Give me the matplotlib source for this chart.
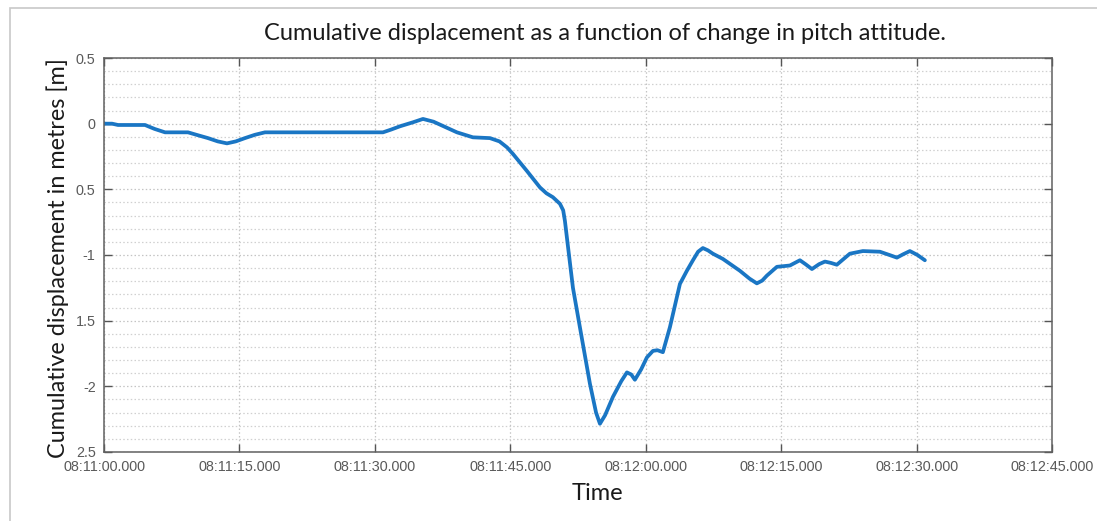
import matplotlib
matplotlib.use("Agg")
import matplotlib.pyplot as plt
import matplotlib.dates as mdates
from matplotlib.ticker import MultipleLocator, FixedLocator, FixedFormatter
from matplotlib.patches import Rectangle
from datetime import datetime, timedelta

# ---- data (seconds after 08:11:00, cumulative displacement in m) ----
t_seconds = [0.0, 0.89, 1.55, 4.54, 5.6, 6.76, 9.30, 10.5, 11.52, 12.6, 13.62,
             14.6, 15.61, 16.7, 17.83,
             30.90, 31.8, 32.78, 34.2, 35.33, 36.5, 39.09, 40.86, 42.75, 43.8,
             44.63, 45.29, 46.84, 48.28, 49.0, 49.72, 50.50, 50.86, 51.05,
             51.38, 51.94, 52.71, 53.82, 54.5, 54.93, 55.5, 56.37, 57.3, 57.92,
             58.4, 58.80, 59.5, 60.13, 60.80, 61.3, 61.90, 62.68, 63.79, 64.56,
             65.23, 65.8, 66.33, 66.9, 67.44, 68.55, 70.43, 71.5, 72.31, 72.9,
             73.42, 74.53, 75.97, 77.08, 77.7, 78.41, 79.2, 79.85, 80.5, 81.17,
             82.61, 84.05, 85.94, 87.0, 87.82, 88.5, 89.26, 90.1, 90.92]
displacement = [0.0, 0.0, -0.01, -0.01, -0.04, -0.066, -0.066, -0.09, -0.11,
                -0.135, -0.15, -0.135, -0.11, -0.085, -0.066,
                -0.066, -0.045, -0.02, 0.01, 0.036, 0.015, -0.066, -0.104,
                -0.11, -0.135, -0.18, -0.23, -0.36, -0.485, -0.53, -0.56,
                -0.61, -0.66, -0.74, -0.93, -1.25, -1.55, -1.98, -2.2, -2.285,
                -2.22, -2.08, -1.96, -1.894, -1.91, -1.95, -1.87, -1.78,
                -1.73, -1.725, -1.74, -1.55, -1.22, -1.12, -1.04, -0.975,
                -0.947, -0.965, -0.99, -1.03, -1.12, -1.18, -1.216, -1.195,
                -1.157, -1.09, -1.08, -1.04, -1.07, -1.107, -1.07, -1.05,
                -1.06, -1.074, -0.99, -0.97, -0.975, -1.0, -1.02, -0.995,
                -0.97, -1.0, -1.04]

start_time = datetime(2020, 1, 1, 8, 11, 0)
x_tick_seconds = [0, 15, 30, 45, 60, 75, 90, 105]
y_ticks = [0.5, 0, -0.5, -1, -1.5, -2, -2.5]
y_tick_labels = ["0.5", "0", "0.5", "-1", "1.5", "-2", "2.5"]

title = "Cumulative displacement as a function of change in pitch attitude."
xlabel = "Time"
ylabel = "Cumulative displacement in metres [m]"

times = [start_time + timedelta(seconds=s) for s in t_seconds]
x_ticks = [mdates.date2num(start_time + timedelta(seconds=s)) for s in x_tick_seconds]
x_tick_labels = [(start_time + timedelta(seconds=s)).strftime("%H:%M:%S") + ".000"
                 for s in x_tick_seconds]

W, H = 1097, 521
fig = plt.figure(figsize=(W / 100, H / 100), dpi=100)
fig.patch.set_facecolor("white")

# outer light border
fig.patches.append(Rectangle((10 / W, -0.1), 1.2, (H - 8) / H + 0.1,
                             transform=fig.transFigure, fill=False,
                             edgecolor="#c8c8c8", lw=1.2))

ax = fig.add_axes([104 / W, (H - 452) / H, (1052 - 104) / W, (452 - 58) / H])

ax.plot(times, displacement, color="#1a76c4", lw=2.7, solid_joinstyle="round",
        solid_capstyle="round")

ax.set_xlim(x_ticks[0], x_ticks[-1])
ax.set_ylim(-2.5, 0.5)
ax.xaxis.set_major_locator(FixedLocator(x_ticks))
ax.xaxis.set_major_formatter(FixedFormatter(x_tick_labels))
ax.yaxis.set_major_locator(FixedLocator(y_ticks))
ax.yaxis.set_major_formatter(FixedFormatter(y_tick_labels))
ax.yaxis.set_minor_locator(MultipleLocator(0.1))

ax.grid(True, which="major", axis="both", linestyle=(0, (1.2, 1.8)),
        color="#c4c4c4", lw=0.9)
ax.grid(True, which="minor", axis="y", linestyle=(0, (1.2, 1.8)),
        color="#d0d0d0", lw=0.9)
ax.set_axisbelow(True)

ax.tick_params(which="major", direction="in", length=6, width=1,
               color="#555555", top=True, right=True, labelsize=10.4,
               labelcolor="#5a5a5a", pad=6)
ax.tick_params(which="minor", length=0)
for lab in ax.get_xticklabels() + ax.get_yticklabels():
    lab.set_family("Liberation Sans")
for sp in ax.spines.values():
    sp.set_color("#606060")
    sp.set_linewidth(1.1)

fig.text(605 / W, (H - 33) / H, title, ha="center", va="center",
         fontsize=17, family="Lato", color="#1a1a1a")
fig.text(597 / W, (H - 494) / H, xlabel, ha="center", va="center",
         fontsize=17, family="Lato", color="#1a1a1a")
fig.text(58 / W, (H - 258) / H, ylabel, ha="center", va="center",
         rotation=90, fontsize=16.8, family="Lato", color="#1a1a1a")

fig.savefig("out.png", dpi=100)
